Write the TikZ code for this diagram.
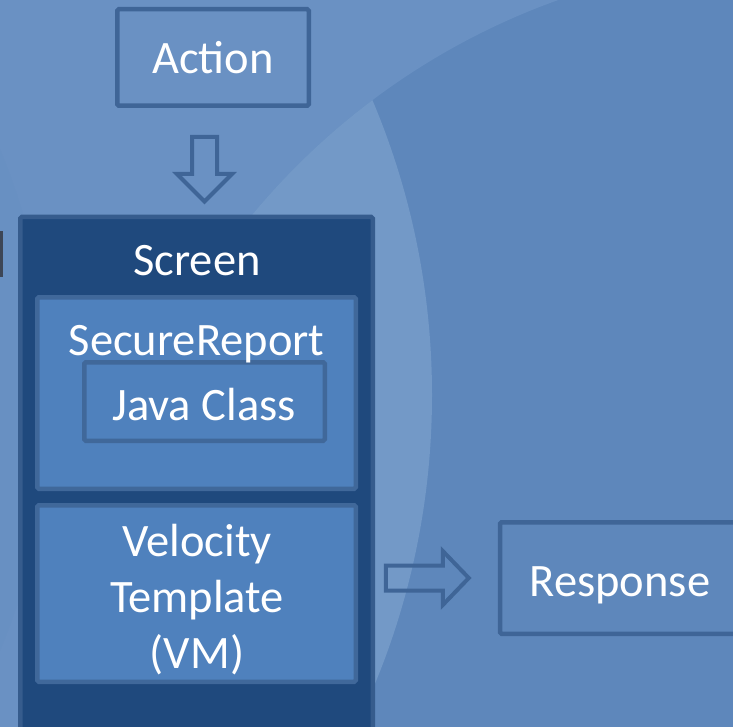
\documentclass[tikz,border=0pt]{standalone}
\usepackage{fontspec}
\setmainfont{Carlito}
\usetikzlibrary{calc}

\definecolor{bgbase}{HTML}{5E87BB}
\definecolor{bgtop}{HTML}{6A91C3}
\definecolor{bgleft}{HTML}{6890C2}
\definecolor{bglens}{HTML}{7399C7}
\definecolor{edge}{HTML}{3F6597}
\definecolor{screenfill}{HTML}{1F497D}
\definecolor{screenedge}{HTML}{365C8D}
\definecolor{partfill}{HTML}{4F81BD}
\definecolor{partedge}{HTML}{40689A}
\definecolor{fragment}{HTML}{3D4656}

\begin{document}
\begin{tikzpicture}[x=1pt,y=-1pt,
  frame/.style={draw=edge,line width=4.5pt,rounded corners=1.5pt,inner sep=0pt},
  screenbox/.style={draw=screenedge,fill=screenfill,line width=4.5pt,rounded corners=1.5pt,inner sep=0pt},
  partbox/.style={draw=partedge,fill=partfill,line width=4.5pt,rounded corners=1.5pt,inner sep=0pt},
  caption/.style={text=white,font=\fontsize{46.5}{57}\selectfont,inner sep=0pt,anchor=base},
  blockarrow/.style={draw=edge,line width=4pt,line join=miter}]

\useasboundingbox (0,0) rectangle (733,727);
\clip (0,0) rectangle (733,727);

% background: base tone, lighter band at the top, light crescent, darker left disc
\fill[bgbase] (0,0) rectangle (733,727);
\fill[bgtop,even odd rule] (0,0) rectangle (733,727) (796,665) circle[radius=706pt];
\begin{scope}
  \clip (796,665) circle[radius=706pt];
  \clip (-325,395) circle[radius=757pt];
  \fill[bglens,even odd rule] (0,0) rectangle (733,727) (-600,400) circle[radius=650pt];
\end{scope}
\begin{scope}
  \clip (-325,395) circle[radius=757pt];
  \fill[bgleft] (-600,400) circle[radius=650pt];
\end{scope}
\fill[fragment] (0,231) rectangle (3,277);

% boxes
\node[frame,minimum width=191.5pt,minimum height=96.5pt] (action) at (213,57.5) {};
\node[screenbox,minimum width=352.5pt,minimum height=560pt] (screen) at (196.5,497) {};
\node[partbox,minimum width=318.5pt,minimum height=191.5pt] (secure) at (196.5,393) {};
\node[partbox,minimum width=240.5pt,minimum height=78.5pt] (javaclass) at (204.5,401.5) {};
\node[partbox,minimum width=318.5pt,minimum height=176.5pt] (velocity) at (196.5,593.5) {};
\node[frame,minimum width=260pt,minimum height=111.5pt] (response) at (630,578) {};

% texts
\node[caption] (actiontxt) at (213,74) {Action};
\node[caption] (screentxt) at (197,276) {Screen};
\node[caption] (securetxt) at (196.5,355) {SecureReport};
\node[caption] (javatxt) at (204,420) {Java Class};
\node[caption] (veltxta) at (197,556) {Velocity};
\node[caption] (veltxtb) at (197,612.5) {Template};
\node[caption] (veltxtc) at (197,668) {(VM)};
\node[caption] (responsetxt) at (620,596) {Response};

% block arrows between the boxes
\coordinate (downtop) at ($(action.south)+(-8.5,29)$);
\draw[blockarrow] ($(downtop)+(-12.5,0)$) -- ++(25,0) -- ++(0,37) -- ++(15,0)
  -- ++(-27.5,27.5) -- ++(-27.5,-27.5) -- ++(15,0) -- cycle;

\coordinate (rightmid) at ($(response.west)+(-112,0)$);
\draw[blockarrow] ($(rightmid)+(0,-12.5)$) -- ++(57,0) -- ++(0,-14.5) -- ++(26,27)
  -- ++(-26,27) -- ++(0,-14.5) -- ++(-57,0) -- cycle;
\end{tikzpicture}
\end{document}
